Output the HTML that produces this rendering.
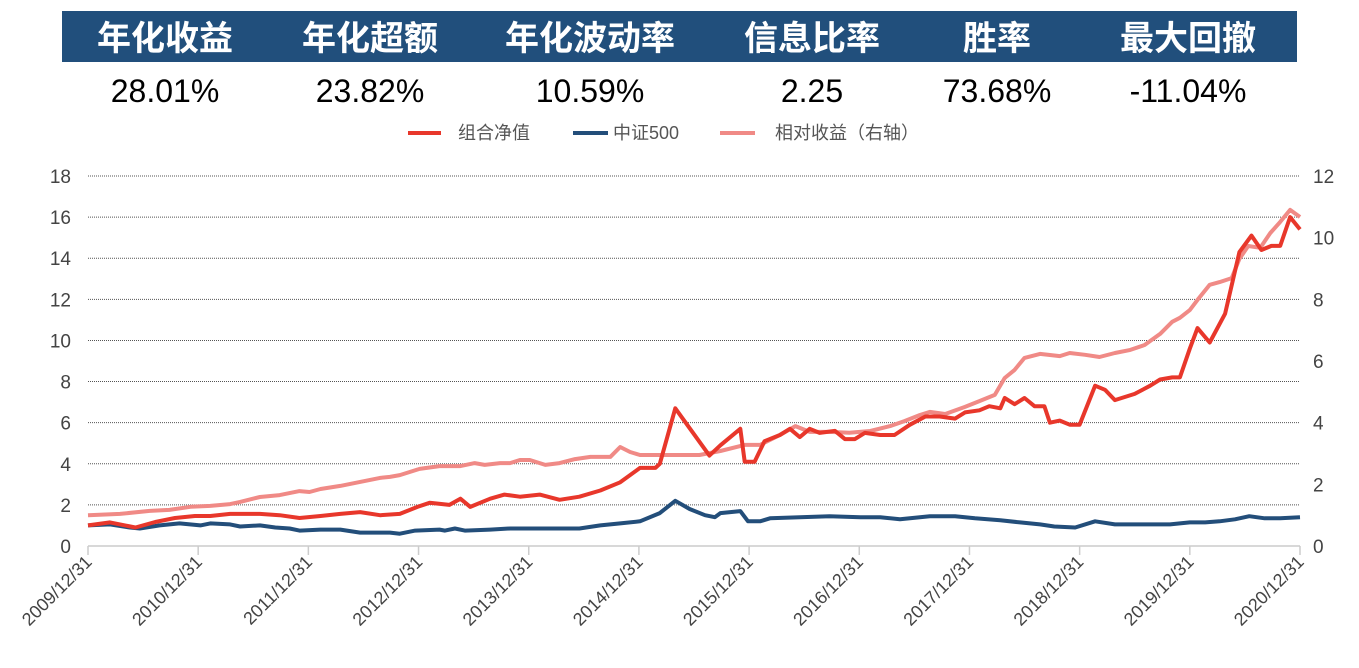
<!DOCTYPE html>
<html><head><meta charset="utf-8">
<style>
body{margin:0;background:#fff;width:1359px;height:663px;overflow:hidden;font-family:"Liberation Sans","Noto Sans CJK SC",sans-serif;}
</style></head>
<body>
<svg width="1359" height="663" xmlns="http://www.w3.org/2000/svg">
<g id="hdr">
<rect x="62" y="11" width="1235" height="51" fill="#214f7c"/>
</g>
<g id="legend" font-size="18" fill="#555">
<g><line x1="408" y1="133" x2="441" y2="133" stroke="#e8372b" stroke-width="4"/><text x="458" y="139">组合净值</text></g>
<g><line x1="573" y1="133" x2="608" y2="133" stroke="#234e7a" stroke-width="4"/><text x="613" y="139">中证500</text></g>
<g><line x1="720" y1="133" x2="755" y2="133" stroke="#f08a86" stroke-width="4"/><text x="775" y="139">相对收益（右轴）</text></g>
</g>
<g id="grid"></g>
<g id="axes"></g>
<g id="series"></g>
</svg>
<script>
const statLabels=["年化收益","年化超额","年化波动率","信息比率","胜率","最大回撤"];
const statValues=["28.01%","23.82%","10.59%","2.25","73.68%","-11.04%"];
const xTickLabels=["2009/12/31","2010/12/31","2011/12/31","2012/12/31","2013/12/31","2014/12/31","2015/12/31","2016/12/31","2017/12/31","2018/12/31","2019/12/31","2020/12/31"];
const leftTicks=[0,2,4,6,8,10,12,14,16,18];
const rightTicks=[0,2,4,6,8,10,12];
// years since 2009/12/31
const redT=[0,0.2,0.43,0.61,0.79,0.97,1.11,1.29,1.56,1.74,1.92,2.11,2.29,2.47,2.65,2.83,2.99,3.10,3.28,3.38,3.47,3.65,3.78,3.92,4.10,4.28,4.46,4.65,4.83,5.01,5.15,5.19,5.33,5.64,5.74,5.92,5.96,6.05,6.14,6.28,6.37,6.46,6.55,6.64,6.78,6.87,6.96,7.05,7.19,7.32,7.46,7.60,7.73,7.87,7.96,8.09,8.18,8.28,8.32,8.41,8.50,8.59,8.68,8.73,8.82,8.91,9.00,9.14,9.23,9.32,9.50,9.64,9.73,9.84,9.91,10.00,10.07,10.18,10.32,10.45,10.56,10.65,10.74,10.82,10.91,11.0];
const redV=[1.0,1.15,0.9,1.17,1.36,1.46,1.46,1.56,1.56,1.5,1.36,1.46,1.56,1.65,1.5,1.56,1.9,2.1,2.0,2.3,1.9,2.3,2.5,2.4,2.5,2.25,2.4,2.7,3.1,3.8,3.8,4.0,6.7,4.4,4.9,5.7,4.1,4.1,5.1,5.4,5.7,5.3,5.7,5.5,5.6,5.2,5.2,5.5,5.4,5.4,5.9,6.3,6.3,6.2,6.5,6.6,6.8,6.7,7.2,6.9,7.2,6.8,6.8,6.0,6.1,5.9,5.9,7.8,7.6,7.1,7.4,7.8,8.1,8.2,8.2,9.6,10.6,9.9,11.3,14.3,15.1,14.4,14.6,14.6,16.0,15.4];
const blueT=[0,0.2,0.38,0.47,0.65,0.83,1.02,1.11,1.29,1.38,1.56,1.70,1.83,1.92,2.11,2.29,2.47,2.74,2.83,2.97,3.19,3.24,3.33,3.42,3.65,3.83,3.97,4.10,4.28,4.46,4.65,4.83,5.01,5.19,5.33,5.46,5.60,5.69,5.74,5.92,5.99,6.10,6.19,6.46,6.73,7.01,7.19,7.37,7.64,7.87,8.05,8.28,8.46,8.64,8.77,8.96,9.14,9.32,9.55,9.82,10.00,10.14,10.27,10.41,10.54,10.68,10.82,11.0];
const blueV=[1.0,1.05,0.9,0.85,1.0,1.1,1.0,1.1,1.05,0.95,1.0,0.9,0.85,0.75,0.8,0.8,0.65,0.65,0.6,0.75,0.8,0.75,0.85,0.75,0.8,0.85,0.85,0.85,0.85,0.85,1.0,1.1,1.2,1.6,2.2,1.8,1.5,1.4,1.6,1.7,1.2,1.2,1.35,1.4,1.45,1.4,1.4,1.3,1.45,1.45,1.35,1.25,1.15,1.05,0.95,0.9,1.2,1.05,1.05,1.05,1.15,1.15,1.2,1.3,1.45,1.35,1.35,1.4];
const pinkT=[0,0.29,0.56,0.74,0.93,1.11,1.29,1.38,1.56,1.74,1.92,2.01,2.11,2.29,2.47,2.65,2.74,2.83,3.01,3.19,3.38,3.51,3.60,3.74,3.83,3.92,4.01,4.15,4.28,4.42,4.56,4.74,4.83,4.92,5.01,5.19,5.33,5.55,5.74,5.96,6.10,6.28,6.42,6.55,6.73,6.91,7.10,7.28,7.41,7.55,7.64,7.78,7.96,8.09,8.23,8.32,8.41,8.50,8.64,8.82,8.91,9.05,9.18,9.32,9.46,9.59,9.73,9.84,9.91,10.00,10.07,10.18,10.27,10.38,10.45,10.53,10.64,10.73,10.82,10.91,11.0];
const pinkV=[1.0,1.04,1.14,1.17,1.27,1.30,1.36,1.43,1.59,1.65,1.78,1.75,1.85,1.95,2.08,2.21,2.24,2.30,2.50,2.59,2.59,2.69,2.63,2.69,2.69,2.79,2.79,2.63,2.69,2.82,2.89,2.89,3.21,3.05,2.95,2.95,2.95,2.95,3.08,3.28,3.28,3.60,3.89,3.70,3.70,3.67,3.73,3.89,4.05,4.25,4.35,4.28,4.51,4.70,4.90,5.45,5.71,6.10,6.23,6.16,6.26,6.20,6.13,6.26,6.36,6.52,6.88,7.27,7.40,7.65,7.98,8.47,8.56,8.69,9.31,9.73,9.67,10.15,10.51,10.90,10.67];

const NS="http://www.w3.org/2000/svg";
const X0=88,X1=1300,Y0=546,Y1=176;
const xs=t=>X0+(X1-X0)*t/11;
const yl=v=>Y0-(Y0-Y1)*v/18;
const yr=v=>Y0-(Y0-Y1)*v/12;
function mk(tag,attrs,parent,txt){const e=document.createElementNS(NS,tag);for(const k in attrs)e.setAttribute(k,attrs[k]);if(txt!==undefined)e.textContent=txt;parent.appendChild(e);return e;}
const hdr=document.getElementById('hdr');
const cx=[165,370,590,812,997,1188];
statLabels.forEach((s,i)=>{
  const t=mk('text',{x:cx[i],y:50,'text-anchor':'middle','font-size':34,'font-weight':'bold',fill:'#fff'},hdr,s);
  
  
  const v=mk('text',{x:cx[i],y:102,'text-anchor':'middle','font-size':32,fill:'#000'},hdr,statValues[i]);
  
  
});
const grid=document.getElementById('grid');
leftTicks.forEach(v=>{
  if(v>0){const l=mk('line',{x1:X0,x2:X1,y1:yl(v),y2:yl(v),stroke:'#555','stroke-width':1,'stroke-dasharray':'1,1'},grid);
  
  }
  const t=mk('text',{x:71,y:yl(v)+7,'text-anchor':'end','font-size':19,fill:'#444'},grid,v);
  
  
});
rightTicks.forEach(v=>{
  const t=mk('text',{x:1313,y:yr(v)+7,'text-anchor':'start','font-size':19,fill:'#444'},grid,v);
  
  
});
const axes=document.getElementById('axes');
const ax=mk('line',{x1:X0,x2:X1,y1:Y0,y2:Y0,stroke:'#ccc','stroke-width':1.5},axes);


xTickLabels.forEach((s,i)=>{
  const x=xs(i);
  const tk=mk('line',{x1:x,x2:x,y1:Y0,y2:Y0+9,stroke:'#ccc','stroke-width':1.5},axes);
  
  
  const t=mk('text',{x:x+5,y:Y0+17,'text-anchor':'end','font-size':18,fill:'#444',transform:`rotate(-45 ${x+5} ${Y0+17})`},axes,s);
  
  
});
const ser=document.getElementById('series');
function line(T,V,yf,col,name){
  const d=T.map((t,i)=>(i?'L':'M')+xs(t).toFixed(1)+','+yf(V[i]).toFixed(1)).join(' ');
  const p=mk('path',{d:d,fill:'none',stroke:col,'stroke-width':4,'stroke-linejoin':'round'},ser);
  
  
}
line(pinkT,pinkV,yr,'#f08a86','relative-return-line');
line(blueT,blueV,yl,'#234e7a','csi500-line');
line(redT,redV,yl,'#e8372b','portfolio-nav-line');
</script>
</body></html>
